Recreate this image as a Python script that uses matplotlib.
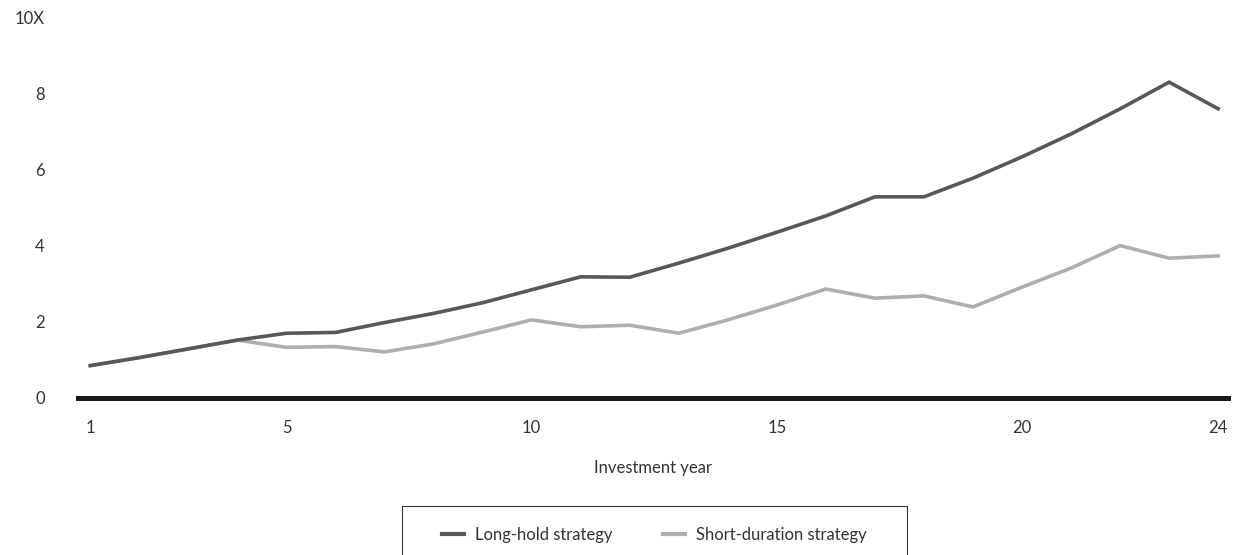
import matplotlib
matplotlib.use('Agg')
import matplotlib.pyplot as plt
from matplotlib.patches import Rectangle

years = list(range(1, 25))
long_hold = [0.85, 1.06, 1.29, 1.52, 1.70, 1.72, 1.98, 2.22, 2.50, 2.84,
             3.18, 3.17, 3.54, 3.93, 4.35, 4.78, 5.28, 5.28, 5.77, 6.33,
             6.93, 7.59, 8.29, 7.59]
short_duration = [0.85, 1.06, 1.29, 1.52, 1.33, 1.35, 1.21, 1.42, 1.73, 2.05,
                  1.87, 1.91, 1.70, 2.05, 2.44, 2.86, 2.62, 2.68, 2.39, 2.91,
                  3.41, 4.00, 3.67, 3.73]
x_ticks = [1, 5, 10, 15, 20, 24]
y_ticks = [0, 2, 4, 6, 8, 10]
y_labels = ['0', '2', '4', '6', '8', '10X']

plt.rcParams['font.family'] = ['Lato', 'DejaVu Sans']
text_color = '#333333'
W, H = 1237, 555

fig = plt.figure(figsize=(W / 100, H / 100), dpi=100)
ax = fig.add_axes([78 / W, 1 - 398 / H, 1150 / W, 381 / H])

ax.plot(years, long_hold, color='#58585a', lw=2.6, label='Long-hold strategy',
        solid_joinstyle='miter', zorder=3)
ax.plot(years, short_duration, color='#aeaeb0', lw=2.6, label='Short-duration strategy',
        solid_joinstyle='miter', zorder=2)

ax.axhline(0, color='#1a1a1a', lw=3.6, clip_on=False, zorder=4)

ax.set_xlim(0.75, 24.2)
ax.set_ylim(0, 10)
ax.set_xticks(x_ticks)
ax.set_yticks(y_ticks)
ax.set_yticklabels(y_labels)
ax.tick_params(length=0, labelsize=12, colors=text_color)
ax.tick_params(axis='y', pad=24)
ax.tick_params(axis='x', pad=16)
for s in ax.spines.values():
    s.set_visible(False)

ax.set_xlabel('Investment year', fontsize=12, color=text_color, labelpad=17)

# legend without frame, box drawn separately (runs off the bottom edge)
leg = fig.legend(loc='center', bbox_to_anchor=(654.5 / W, 1 - 535 / H),
                 ncol=2, fontsize=12, frameon=False,
                 handlelength=1.3, handletextpad=0.7, columnspacing=3.0,
                 borderpad=0, borderaxespad=0)
for t in leg.get_texts():
    t.set_color(text_color)
for h in leg.legend_handles:
    h.set_linewidth(3)

fig.patches.append(Rectangle((402 / W, -0.05), 505 / W, 1 - 506 / H + 0.05,
                             transform=fig.transFigure, fill=False,
                             edgecolor='#333333', lw=0.8))

fig.savefig('out.png', dpi=100)
